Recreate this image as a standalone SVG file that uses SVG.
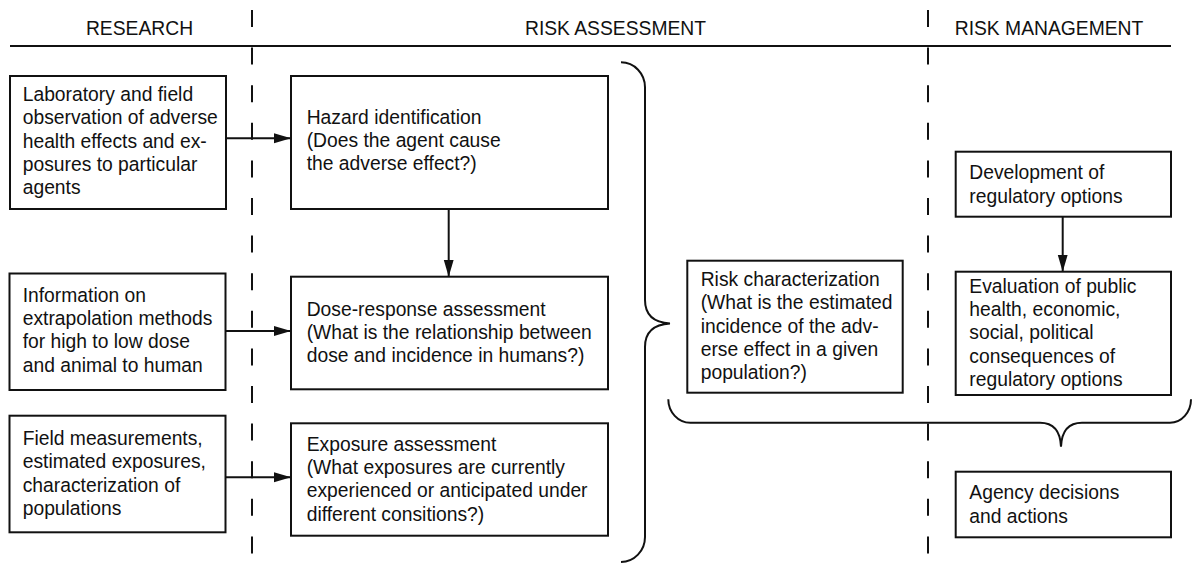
<svg xmlns="http://www.w3.org/2000/svg" width="1195" height="573" viewBox="0 0 1195 573">
<style>
text{font-family:"Liberation Sans",Arial,Helvetica,sans-serif;font-size:19.3px;fill:#111}
.box{fill:#fff;stroke:#111;stroke-width:2}
.hdr{text-anchor:middle}
.dash{stroke:#111;stroke-width:2;stroke-dasharray:17 20.6;fill:none}
.conn{stroke:#111;stroke-width:2;fill:none}
.brace{stroke:#111;stroke-width:2;fill:none}
</style>
<defs>
<marker id="ah" markerUnits="userSpaceOnUse" markerWidth="18" markerHeight="12" refX="17" refY="5" orient="auto">
<path d="M0,0 L17,5 L0,10 Z" fill="#111"/>
</marker>
</defs>
<g id="headers">
<text class="hdr" x="139.5" y="35">RESEARCH</text>
<text class="hdr" x="615.5" y="35">RISK ASSESSMENT</text>
<text class="hdr" x="1049" y="35">RISK MANAGEMENT</text>
<line x1="10" y1="46" x2="1171" y2="46" stroke="#111" stroke-width="2"/>
<line class="dash" x1="252" y1="10" x2="252" y2="554"/>
<line class="dash" x1="928" y1="10" x2="928" y2="554"/>
</g>
<g id="lab">
<rect class="box" x="10" y="76" width="216" height="133"/>
<text x="22.7" y="101">Laboratory and field</text>
<text x="22.7" y="124.3">observation of adverse</text>
<text x="22.7" y="147.6">health effects and ex-</text>
<text x="22.7" y="170.9">posures to particular</text>
<text x="22.7" y="194.2">agents</text>
</g>
<g id="info">
<rect class="box" x="9.5" y="273.5" width="216" height="116.5"/>
<text x="22.7" y="301.7">Information on</text>
<text x="22.7" y="325">extrapolation methods</text>
<text x="22.7" y="348.3">for high to low dose</text>
<text x="22.7" y="371.6">and animal to human</text>
</g>
<g id="field">
<rect class="box" x="9.5" y="415.7" width="216" height="116.6"/>
<text x="22.7" y="445">Field measurements,</text>
<text x="22.7" y="468.3">estimated exposures,</text>
<text x="22.7" y="491.6">characterization of</text>
<text x="22.7" y="514.9">populations</text>
</g>
<g id="hazard">
<rect class="box" x="291" y="76" width="317" height="133"/>
<text x="306.7" y="123.5">Hazard identification</text>
<text x="306.7" y="146.8">(Does the agent cause</text>
<text x="306.7" y="170.1">the adverse effect?)</text>
</g>
<g id="dose">
<rect class="box" x="291" y="276.7" width="317" height="112.6"/>
<text x="306.7" y="315.5">Dose-response assessment</text>
<text x="306.7" y="338.8">(What is the relationship between</text>
<text x="306.7" y="362.1">dose and incidence in humans?)</text>
</g>
<g id="exposure">
<rect class="box" x="291" y="423.3" width="317" height="112.4"/>
<text x="306.7" y="450.7">Exposure assessment</text>
<text x="306.7" y="474">(What exposures are currently</text>
<text x="306.7" y="497.3">experienced or anticipated under</text>
<text x="306.7" y="520.6">different consitions?)</text>
</g>
<g id="riskchar">
<rect class="box" x="687.3" y="260.7" width="215.4" height="132"/>
<text x="700.7" y="286">Risk characterization</text>
<text x="700.7" y="309.3">(What is the estimated</text>
<text x="700.7" y="332.6">incidence of the adv-</text>
<text x="700.7" y="355.9">erse effect in a given</text>
<text x="700.7" y="379.2">population?)</text>
</g>
<g id="devreg">
<rect class="box" x="955.7" y="151.7" width="215.3" height="65"/>
<text x="969.3" y="179.3">Development of</text>
<text x="969.3" y="202.6">regulatory options</text>
</g>
<g id="evaluation">
<rect class="box" x="955.7" y="271.7" width="215.3" height="123.3"/>
<text x="969.3" y="292.7">Evaluation of public</text>
<text x="969.3" y="316">health, economic,</text>
<text x="969.3" y="339.3">social, political</text>
<text x="969.3" y="362.6">consequences of</text>
<text x="969.3" y="385.9">regulatory options</text>
</g>
<g id="agency">
<rect class="box" x="955.7" y="471.7" width="215.3" height="65.6"/>
<text x="969.3" y="499.3">Agency decisions</text>
<text x="969.3" y="522.6">and actions</text>
</g>
<g id="connectors">
<line class="conn" x1="226" y1="138.3" x2="291" y2="138.3" marker-end="url(#ah)"/>
<line class="conn" x1="225.5" y1="331" x2="291" y2="331" marker-end="url(#ah)"/>
<line class="conn" x1="225.5" y1="477.3" x2="291" y2="477.3" marker-end="url(#ah)"/>
<line class="conn" x1="448.7" y1="209" x2="448.7" y2="276.7" marker-end="url(#ah)"/>
<line class="conn" x1="1062.7" y1="216.7" x2="1062.7" y2="271.7" marker-end="url(#ah)"/>
<path class="brace" d="M621,62.3 A24,25 0 0 1 645,87.5 L645,300 Q645,322 670,323.5 Q645,325 645,347 L645,537 A24,25 0 0 1 621,562"/>
<path class="brace" d="M668.3,399.3 A22,23.4 0 0 0 690.3,422.7 L1040,422.7 Q1060,422.7 1061,446.7 Q1062,422.7 1082,422.7 L1170,422.7 A21,23.4 0 0 0 1191,399.3"/>
</g>
</svg>
